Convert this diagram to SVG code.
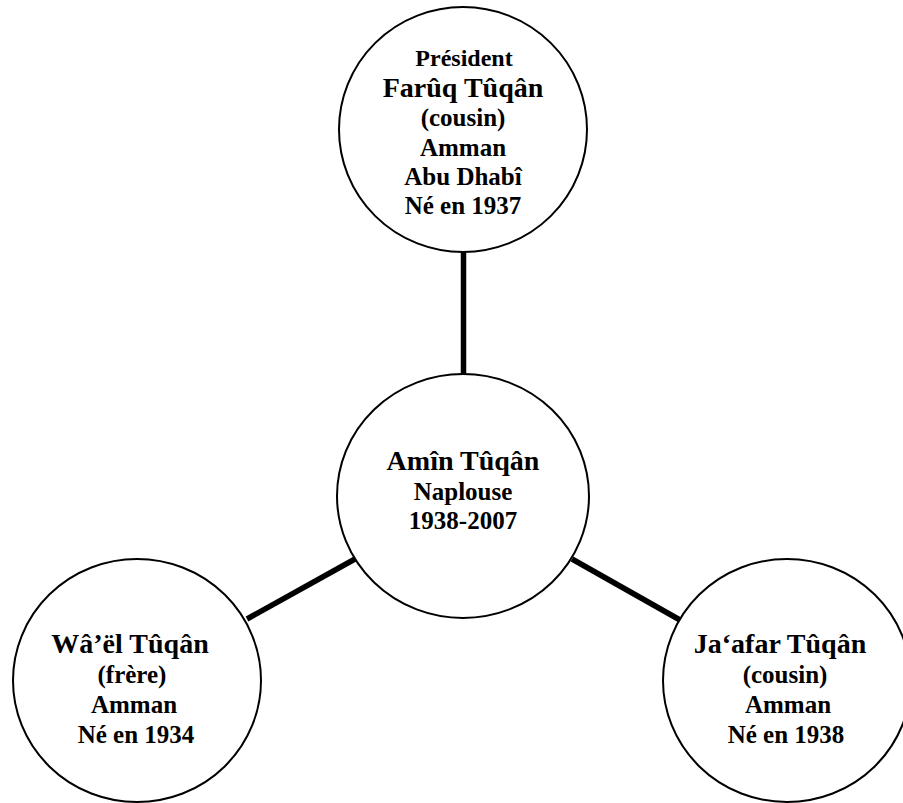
<svg xmlns="http://www.w3.org/2000/svg" width="903" height="803" viewBox="0 0 903 803">
<style>
.node{fill:#fff;stroke:#000;stroke-width:2}
.conn{stroke:#000;stroke-width:5.5;stroke-linecap:butt;fill:none}
text{font-family:"Liberation Serif","Times New Roman",serif;font-weight:bold;text-anchor:middle;fill:#000}
.s{font-size:25px}
.p{font-size:24px}
.l{font-size:28px}
</style>
<rect width="903" height="803" fill="#fff"/>
<g id="connectors">
<line class="conn" x1="463.5" y1="252" x2="463.5" y2="374"/>
<line class="conn" x1="247" y1="619" x2="355" y2="559"/>
<line class="conn" x1="572" y1="559" x2="680" y2="620"/>
</g>
<g id="node-faruq">
<ellipse class="node" cx="463" cy="129.5" rx="124" ry="122.5"/>
<text class="p" x="464" y="66">Président</text>
<text class="l" x="463" y="97">Farûq Tûqân</text>
<text class="s" x="463" y="126">(cousin)</text>
<text class="s" x="463" y="156">Amman</text>
<text class="s" x="463" y="185">Abu Dhabî</text>
<text class="s" x="463" y="214">Né en 1937</text>
</g>
<g id="node-amin">
<ellipse class="node" cx="463" cy="496" rx="126" ry="122"/>
<text class="l" x="463" y="470">Amîn Tûqân</text>
<text class="s" x="463" y="500">Naplouse</text>
<text class="s" x="463" y="529">1938-2007</text>
</g>
<g id="node-wael">
<ellipse class="node" cx="137" cy="680.5" rx="124" ry="121.5"/>
<text class="l" x="130" y="653">Wâ’ël Tûqân</text>
<text class="s" x="132" y="683">(frère)</text>
<text class="s" x="134" y="713">Amman</text>
<text class="s" x="136" y="743">Né en 1934</text>
</g>
<g id="node-jaafar">
<ellipse class="node" cx="787" cy="680.5" rx="124" ry="121.5"/>
<text class="l" x="780" y="653">Jaʻafar Tûqân</text>
<text class="s" x="785" y="683">(cousin)</text>
<text class="s" x="788" y="713">Amman</text>
<text class="s" x="786" y="743">Né en 1938</text>
</g>
</svg>
